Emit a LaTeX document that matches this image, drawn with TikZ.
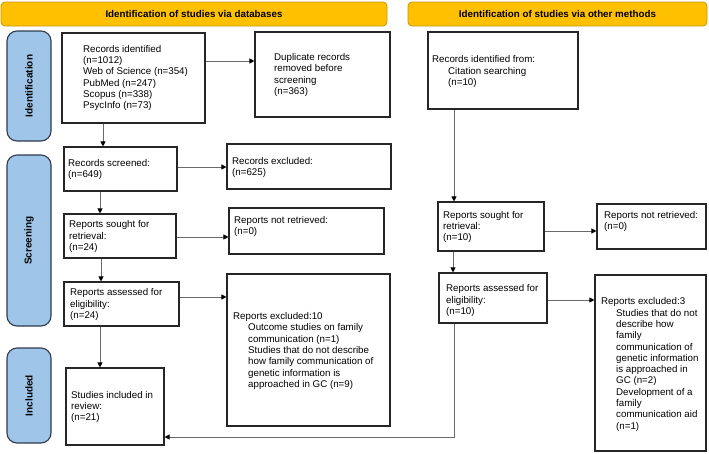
\documentclass[tikz,border=0pt]{standalone}
\usepackage{fontspec}
\setmainfont{Liberation Sans}
\usetikzlibrary{arrows.meta}
\definecolor{hdr}{HTML}{FFC000}
\definecolor{hdrline}{HTML}{C99700}
\definecolor{side}{HTML}{9FC5E8}
\definecolor{sideline}{HTML}{2E3B4E}
\definecolor{lin}{HTML}{6A6A6A}
\begin{document}
\begin{tikzpicture}[x=1pt,y=-1pt,
  box/.style={draw=black!85, line width=1.1pt, fill=white, inner sep=0pt},
  txt/.style={anchor=west, align=left, inner sep=0pt, font=\fontsize{9.75}{11.3}\selectfont},
  hdrbox/.style={draw=hdrline, fill=hdr, rounded corners=4pt, line width=0.8pt, inner sep=0pt, font=\bfseries\fontsize{9.8}{11}\selectfont},
  sidebar/.style={draw=sideline, fill=side, rounded corners=10pt, line width=1.1pt, inner sep=0pt, rotate=90, minimum height=44pt, font=\bfseries\fontsize{10}{12}\selectfont},
  arr/.style={draw=lin, line width=0.9pt, -{Triangle[length=5pt,width=5pt,color=black]}},
]
\useasboundingbox (0,0) rectangle (709,453);

% headers
\node[hdrbox, minimum width=386pt, minimum height=24pt] (h1) at (194,14) {Identification of studies via databases};
\node[hdrbox, minimum width=299pt, minimum height=24pt] (h2) at (557.5,14) {Identification of studies via other methods};

% side bars
\node[sidebar, minimum width=110pt] (sid) at (29,86) {Identification};
\node[sidebar, minimum width=171pt] (sscr) at (29,240.5) {Screening};
\node[sidebar, minimum width=95pt] (sinc) at (29,395.5) {Included};

% left column boxes
\node[box, minimum width=143pt, minimum height=90pt] (recid) at (133.5,78) {};
\node[txt] (recidt) at (83,78) {Records identified\\(n=1012)\\Web of Science (n=354)\\PubMed (n=247)\\Scopus (n=338)\\PsycInfo (n=73)};

\node[box, minimum width=135pt, minimum height=85pt] (dup) at (322.5,74.5) {};
\node[txt] (dupt) at (274,75) {Duplicate records\\removed before\\screening\\(n=363)};

\node[box, minimum width=113pt, minimum height=44pt] (scr) at (120.5,169) {};
\node[txt] (scrt) at (68,169.5) {Records screened:\\(n=649)};

\node[box, minimum width=164pt, minimum height=45pt] (rexc) at (309,166.5) {};
\node[txt] (rexct) at (232,167.5) {Records excluded:\\(n=625)};

\node[box, minimum width=112pt, minimum height=44pt] (sought) at (120,236) {};
\node[txt] (soughtt) at (69,236.5) {Reports sought for\\retrieval:\\(n=24)};

\node[box, minimum width=155pt, minimum height=46pt] (nret) at (306.5,231) {};
\node[txt] (nrett) at (234,226.5) {Reports not retrieved:\\(n=0)};

\node[box, minimum width=115pt, minimum height=44pt] (assess) at (121.5,304) {};
\node[txt] (assesst) at (70,304.5) {Reports assessed for\\eligibility:\\(n=24)};

\node[box, minimum width=163pt, minimum height=152pt] (exc10) at (308.5,350) {};
\node[txt] (exc10t) at (233,351) {Reports excluded:10\\
\hspace*{15pt}Outcome studies on family\\
\hspace*{15pt}communication (n=1)\\
\hspace*{15pt}Studies that do not describe\\
\hspace*{15pt}how family communication of\\
\hspace*{15pt}genetic information is\\
\hspace*{15pt}approached in GC (n=9)};

\node[box, minimum width=98pt, minimum height=77pt] (incl) at (115,406.5) {};
\node[txt] (inclt) at (71,407) {Studies included in\\review:\\(n=21)};

% right column boxes
\node[box, minimum width=150pt, minimum height=77pt] (cit) at (503,70.5) {};
\node[txt] (citt) at (432,71.5) {Records identified from:\\
\hspace*{16pt}Citation searching\\
\hspace*{16pt}(n=10)};

\node[box, minimum width=106pt, minimum height=49pt] (soughtR) at (491,226.5) {};
\node[txt] (soughtRt) at (443,227) {Reports sought for\\retrieval:\\(n=10)};

\node[box, minimum width=109pt, minimum height=45pt] (nretR) at (651.5,226.5) {};
\node[txt] (nretRt) at (604,221.5) {Reports not retrieved:\\(n=0)};

\node[box, minimum width=108pt, minimum height=50pt] (assessR) at (493,298) {};
\node[txt] (assessRt) at (446,300.5) {Reports assessed for\\eligibility:\\(n=10)};

\node[box, minimum width=111pt, minimum height=176pt] (exc3) at (650.5,363) {};
\node[txt] (exc3t) at (601,364.5) {Reports excluded:3\\
\hspace*{15pt}Studies that do not\\
\hspace*{15pt}describe how\\
\hspace*{15pt}family\\
\hspace*{15pt}communication of\\
\hspace*{15pt}genetic information\\
\hspace*{15pt}is approached in\\
\hspace*{15pt}GC (n=2)\\
\hspace*{15pt}Development of a\\
\hspace*{15pt}family\\
\hspace*{15pt}communication aid\\
\hspace*{15pt}(n=1)};

% connectors
\draw[arr] (recid.east |- 0,61) -- (dup.west |- 0,61);
\draw[arr] (recid.south -| 103,0) -- (scr.north -| 103,0);
\draw[arr] (scr.east |- 0,167) -- (rexc.west |- 0,167);
\draw[arr] (scr.south -| 100,0) -- (sought.north -| 100,0);
\draw[arr] (sought.east |- 0,237) -- (nret.west |- 0,237);
\draw[arr] (sought.south -| 101,0) -- (assess.north -| 101,0);
\draw[arr] (assess.east |- 0,297) -- (exc10.west |- 0,297);
\draw[arr] (assess.south -| 100,0) -- (incl.north -| 100,0);
\draw[arr] (cit.south -| 454,0) -- (soughtR.north -| 454,0);
\draw[arr] (soughtR.east |- 0,231) -- (nretR.west |- 0,231);
\draw[arr] (soughtR.south -| 453,0) -- (assessR.north -| 453,0);
\draw[arr] (assessR.east |- 0,300) -- (exc3.west |- 0,300);
\draw[arr] (assessR.south -| 454,0) |- (incl.east |- 0,437);
\end{tikzpicture}
\end{document}
